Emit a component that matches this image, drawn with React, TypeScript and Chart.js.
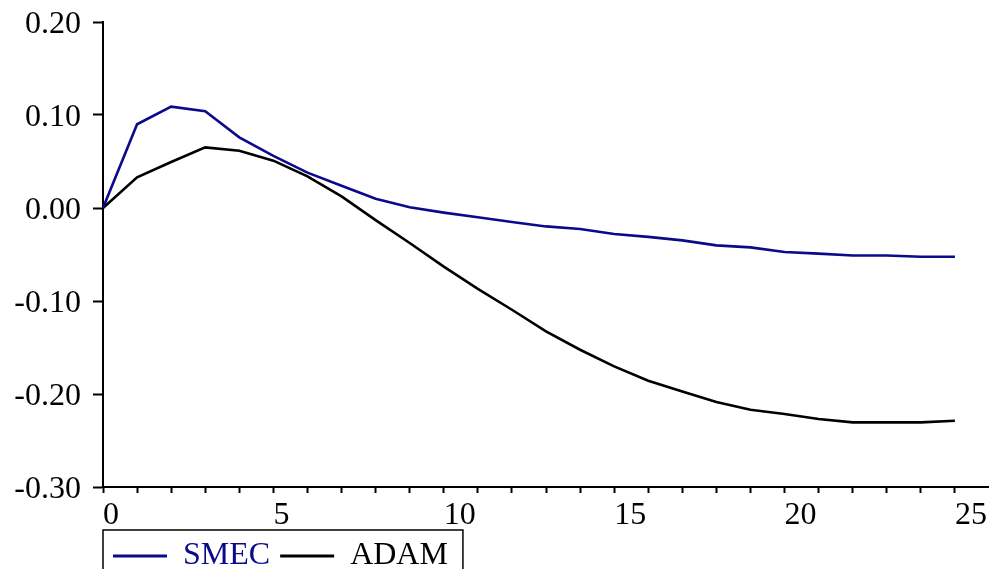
import React, { useEffect, useRef } from "react";
import { Chart, registerables } from "chart.js";

Chart.register(...registerables);

const periods: number[] = Array.from({ length: 26 }, (_, i) => i);
const smecValues: number[] = [
  0.0, 0.09, 0.109, 0.104, 0.076, 0.056, 0.038, 0.024, 0.01, 0.0007,
  -0.005, -0.01, -0.015, -0.0198, -0.0226, -0.028, -0.031, -0.0348, -0.0402, -0.0423,
  -0.0473, -0.0491, -0.051, -0.051, -0.0524, -0.0524,
];
const adamValues: number[] = [
  0.0, 0.033, 0.0495, 0.0652, 0.0616, 0.0509, 0.034, 0.0125, -0.013, -0.0376,
  -0.063, -0.087, -0.1094, -0.1327, -0.1524, -0.1703, -0.1857, -0.1972, -0.2086, -0.2169,
  -0.2215, -0.2269, -0.2305, -0.2305, -0.2305, -0.2287,
];
const seriesNames: string[] = ["SMEC", "ADAM"];
const seriesColors: string[] = ["#0a0a8a", "#000000"];
const xTickLabels: number[] = [0, 5, 10, 15, 20, 25];

const FONT = "'Liberation Serif', 'Times New Roman', serif";

const legendBorder = {
  id: "legendBorder",
  afterDraw(chart: any) {
    const lg = chart.legend;
    if (!lg || !lg.legendHitBoxes || !lg.legendHitBoxes.length) return;
    const hb = lg.legendHitBoxes;
    const last = hb[hb.length - 1];
    const left = chart.chartArea.left;
    const right = last.left + last.width + 15;
    const top = lg.top;
    const ctx = chart.ctx;
    ctx.save();
    ctx.strokeStyle = "#000";
    ctx.lineWidth = 1.5;
    ctx.strokeRect(left, top, right - left, 80);
    ctx.restore();
  },
};

export default function App() {
  const ref = useRef<HTMLCanvasElement | null>(null);
  useEffect(() => {
    if (!ref.current) return;
    const datasets = [smecValues, adamValues].map((vals, i) => ({
      label: seriesNames[i],
      data: vals.map((v, j) => ({ x: periods[j], y: v })),
      borderColor: seriesColors[i],
      backgroundColor: seriesColors[i],
      borderWidth: 2.6,
      pointRadius: 0,
      tension: 0,
      fill: false,
    }));
    const chart = new Chart(ref.current, {
      type: "line",
      data: { datasets },
      plugins: [legendBorder],
      options: {
        animation: false,
        responsive: false,
        maintainAspectRatio: false,
        layout: { padding: { top: 22, left: 0, right: 0, bottom: -13 } },
        plugins: {
          tooltip: { enabled: false },
          legend: {
            position: "bottom",
            align: "start",
            fullSize: false,
            labels: {
              font: { family: FONT, size: 32 },
              boxWidth: 54,
              boxHeight: 3,
              padding: 10,
              generateLabels: () =>
                seriesNames.map((n, i) => ({
                  text: n,
                  fillStyle: seriesColors[i],
                  strokeStyle: seriesColors[i],
                  lineWidth: 0,
                  fontColor: seriesColors[i],
                  hidden: false,
                  datasetIndex: i,
                })),
            },
          },
        },
        scales: {
          x: {
            type: "linear",
            min: 0,
            max: 26,
            afterFit: (s: any) => {
              s.height = 43;
              s.paddingLeft = 0;
              s.paddingRight = 0;
            },
            ticks: {
              stepSize: 1,
              autoSkip: false,
              maxRotation: 0,
              align: "start",
              padding: 3,
              color: "#000",
              font: { family: FONT, size: 32 },
              callback: (v: any) => (xTickLabels.includes(Number(v)) ? String(v) : ""),
            },
            grid: {
              drawOnChartArea: false,
              tickLength: 6,
              tickWidth: 2,
              tickColor: (ctx: any) => (ctx.tick && ctx.tick.value > 25 ? "rgba(0,0,0,0)" : "#000"),
            },
            border: { color: "#000", width: 2 },
          },
          y: {
            min: -0.3,
            max: 0.2,
            afterFit: (s: any) => {
              s.width = 103;
              s.paddingTop = 0;
              s.paddingBottom = 0;
            },
            ticks: {
              stepSize: 0.1,
              padding: 12,
              labelOffset: 3,
              color: "#000",
              font: { family: FONT, size: 32 },
              callback: (v: any) => Number(v).toFixed(2),
            },
            grid: {
              drawOnChartArea: false,
              tickLength: 10,
              tickWidth: 2,
              tickColor: "#000",
            },
            border: { color: "#000", width: 2 },
          },
        },
      },
    });
    return () => chart.destroy();
  }, []);
  return (
    <div style={{ position: "fixed", left: 0, top: 0, width: 989, height: 569, background: "#fff" }}>
      <canvas ref={ref} width={989} height={569} style={{ display: "block" }} />
    </div>
  );
}
